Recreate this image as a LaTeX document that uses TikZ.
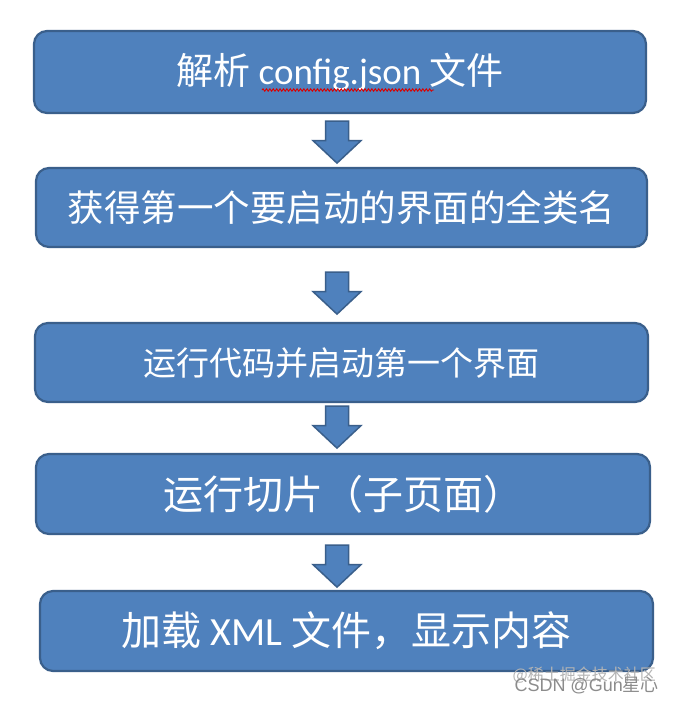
\documentclass[tikz,border=0pt]{standalone}
\usepackage{fontspec}
\setmainfont{Carlito}
\newfontfamily\cjk{Noto Sans CJK SC}
\newfontfamily\wm{Liberation Sans}
\usetikzlibrary{decorations.pathmorphing,calc}
\definecolor{boxfill}{HTML}{4F81BD}
\definecolor{boxline}{HTML}{3A5F8B}
\definecolor{wmgray}{HTML}{8C8C8C}
\definecolor{wmlight}{HTML}{B4B4B4}
\tikzset{
  flowbox/.style={draw=boxline, fill=boxfill, line width=2.2pt, rounded corners=13pt,
    text=white, inner sep=0pt, minimum height=80pt},
  arrowstyle/.style={draw=boxline, fill=boxfill, line width=1.5pt, line join=miter},
  downarrow/.pic={\path[arrowstyle] (-11.5,0) -- (11.5,0) -- (11.5,19.5) -- (24,19.5)
     -- (0,42) -- (-24,19.5) -- (-11.5,19.5) -- cycle;},
  squiggle/.style={draw=red!85!black, line width=0.9pt,
     decorate, decoration={snake, amplitude=1.2pt, segment length=3.4pt}}
}
\begin{document}
\begin{tikzpicture}[x=1pt,y=-1pt]
\useasboundingbox[fill=white] (0,0) rectangle (675,702);

\node[flowbox, minimum width=612pt, minimum height=82pt, font=\fontsize{37}{41}\selectfont]
  (b1) at (340,72) {{\cjk 解析} config.json {\cjk 文件}};
\node[flowbox, minimum width=611pt, minimum height=79pt, font=\fontsize{36.5}{40}\selectfont\cjk]
  (b2) at (341.5,207.5) {获得第一个要启动的界面的全类名};
\node[flowbox, minimum width=613pt, minimum height=79pt, font=\fontsize{33}{38}\selectfont\cjk]
  (b3) at (341.5,362.5) {运行代码并启动第一个界面};
\node[flowbox, minimum width=614pt, minimum height=80pt, font=\fontsize{40}{44}\selectfont\cjk]
  (b4) at (343,494) {运行切片（子页面）};
\node[flowbox, minimum width=613pt, minimum height=80pt, font=\fontsize{40}{44}\selectfont]
  (b5) at (346.5,631) {{\cjk 加载} XML {\cjk 文件，显示内容}};

\pic at ($(b1.south)+(-3,7)$) {downarrow};
\pic at ($(b2.south)+(-4.5,24)$) {downarrow};
\pic at ($(b3.south)+(-4.5,3)$) {downarrow};
\pic at ($(b4.south)+(-6,10)$) {downarrow};

\draw[squiggle] (262,90) -- (434,90);

\node[text=wmlight, font=\fontsize{16}{18}\selectfont\cjk, anchor=east, inner sep=0pt]
  (wm2) at (656,675) {@稀土掘金技术社区};
\node[text=wmgray, font=\fontsize{18}{20}\selectfont\wm, anchor=east, inner sep=0pt]
  (wm1) at (659,685) {CSDN @Gun{\cjk 星心}};
\end{tikzpicture}
\end{document}
